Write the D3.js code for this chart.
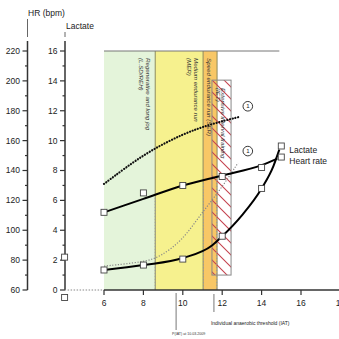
<!DOCTYPE html>
<html>
<head>
<meta charset="utf-8">
<script src="https://cdn.jsdelivr.net/npm/d3@7/dist/d3.min.js"></script>
<style>
  html, body { margin: 0; padding: 0; background: #fff; }
  svg { display: block; font-family: "Liberation Sans", Arial, sans-serif; }
</style>
</head>
<body>
<div id="chart"></div>
<script>
// Running speed (km/h) of the step test stages
const speeds = [6, 8, 10, 12, 14, 15];
// Measured heart rate (bpm) and blood lactate (mmol/l) per stage
const heartRate = [112, 125, 130, 136, 142, 149];
const lactate = [1.34, 1.67, 2.07, 3.6, 6.8, 9.64];
// Resting values, plotted at the left edge of the speed axis
const restSpeed = 4;
const restHeartRate = 82;
const restLactate = -0.5;

// Fitted curves through the measured stages
const hrFitSpeed = [6, 8, 10, 12, 14, 14.8];
const hrFit = [112, 121, 130, 136.7, 143.6, 148];
const lacFitSpeed = [6, 8, 10, 11.5, 12, 13, 14, 14.6, 14.9];
const lacFit = [1.34, 1.67, 2.14, 3.0, 3.6, 5.0, 6.8, 8.3, 9.4];

// Reference curves (dotted)
const hrRefSpeed = [6, 7, 8.3, 10, 11.4, 12.9];
const hrRef = [131, 141, 153, 164.5, 171, 176];
const lacRefSpeed = [6, 8, 8.84, 10, 10.87, 11.9, 12.8];
const lacRef = [1.6, 1.87, 2.2, 3.35, 5.0, 6.7, 8.5];

// Training zones (speed ranges)
const zoneNames = ["Regenerative and long jog", "Medium endurance run", "Speed endurance run (SER)"];
const zoneCodes = ["(L.SD/REH)", "(MER)", ""];
const zoneStart = [6, 8.6, 11.03];
const zoneEnd = [8.6, 11.03, 11.74];
const zoneColors = ["#e4f4da", "#f6f18e", "#f8c766"];
// Interval training band (speed range, lactate range)
const intervalSpeed = [11.48, 12.45];
const intervalLactate = [1.0, 14.05];
const intervalName = "Extensive interval training";
const intervalCode = "(IET)";
// Threshold markers
const thresholdSpeeds = [8.6, 11.05, 11.72];
const peatSpeed = 9.66;
const iatSpeed = 11.58;
// Circled annotations (speed, heart rate)
const noteSpeed = [13.3, 13.3];
const noteHR = [183, 153];

// Axis ticks
const hrTicks = d3.range(60, 221, 10);
const lacTicks = d3.range(0, 17, 1);
const speedTicks = [6, 8, 10, 12, 14, 16, 18];

const W = 339, H = 339;
const svg = d3.select("#chart").append("svg").attr("width", W).attr("height", H);

const x = d3.scaleLinear().domain([4, 18]).range([64.6, 340.4]);
const yL = d3.scaleLinear().domain([0, 16]).range([290, 51]);
const yH = d3.scaleLinear().domain([60, 220]).range([290, 51]);

const axisColor = "#333";
const fs = 8.5;

// hatch pattern for the interval band
const defs = svg.append("defs");
defs.append("pattern").attr("id", "hatch").attr("patternUnits", "userSpaceOnUse")
  .attr("width", 12).attr("height", 12)
  .append("path").attr("d", "M0,0 L12,12 M-3,9 L3,15 M9,-3 L15,3")
  .attr("stroke", "#c4434f").attr("stroke-width", 1.1).attr("fill", "none");

// zones
const zones = svg.append("g");
zoneStart.forEach((s, i) => {
  zones.append("rect")
    .attr("x", x(s)).attr("y", yL(16))
    .attr("width", x(zoneEnd[i]) - x(s)).attr("height", yL(0) - yL(16))
    .attr("fill", zoneColors[i]);
});
// zone boundaries
[8.6, 11.03, 11.74].forEach(s => {
  zones.append("line").attr("x1", x(s)).attr("x2", x(s)).attr("y1", yL(16)).attr("y2", yL(0))
    .attr("stroke", "#8d8b5c").attr("stroke-width", 1);
});
// top border
svg.append("line").attr("x1", x(6)).attr("x2", x(14.9)).attr("y1", yL(16)).attr("y2", yL(16))
  .attr("stroke", "#777").attr("stroke-width", 1);

// interval band
svg.append("rect")
  .attr("x", x(intervalSpeed[0])).attr("y", yL(intervalLactate[1]))
  .attr("width", x(intervalSpeed[1]) - x(intervalSpeed[0]))
  .attr("height", yL(intervalLactate[0]) - yL(intervalLactate[1]))
  .attr("fill", "url(#hatch)").attr("stroke", "#888").attr("stroke-width", 1);

// zone labels, rotated
function vlabel(xpos, ypos, txt, size) {
  svg.append("text").attr("transform", `translate(${xpos},${ypos}) rotate(90)`)
    .attr("font-size", size).attr("font-style", "italic").attr("fill", "#333").text(txt);
}
const hrAt = d3.scaleLinear().domain(hrFitSpeed).range(hrFit);
vlabel(x(8.6) - 9, 58, zoneNames[0], 6.2);
vlabel(x(8.6) - 16, 58, zoneCodes[0], 6.2);
vlabel(x(11.03) - 9, 58, zoneNames[1], 6.2);
vlabel(x(11.03) - 16, 58, zoneCodes[1], 6.2);
vlabel(x(11.03) + 3.5, 58, zoneNames[2], 6.2);
vlabel(x(11.74) - 1.5, 88, intervalCode, 6.2);
vlabel(x(12.45) - 10, 88, intervalName, 6.2);

// threshold dotted verticals
thresholdSpeeds.forEach(s => {
  svg.append("line").attr("x1", x(s)).attr("x2", x(s))
    .attr("y1", yH(hrAt(s)) + 3).attr("y2", yH(60))
    .attr("stroke", "#999").attr("stroke-width", 1).attr("stroke-dasharray", "1.2,1.8");
});

// axes
function vAxis(xpos, scale, ticks, labelEvery, topExt) {
  const g = svg.append("g").attr("transform", `translate(${xpos},0)`);
  g.append("line").attr("y1", scale.range()[0]).attr("y2", 41).attr("stroke", axisColor).attr("stroke-width", 1.5);
  g.append("line").attr("y1", topExt[0]).attr("y2", topExt[1]).attr("stroke", "#666").attr("stroke-width", 1);
  ticks.forEach((t, i) => {
    const major = i % 2 === 0;
    g.append("line").attr("x1", major ? -5 : -2.5).attr("x2", 0)
      .attr("y1", scale(t)).attr("y2", scale(t)).attr("stroke", axisColor).attr("stroke-width", 1.2);
    if (major) {
      g.append("text").attr("x", -7.5).attr("y", scale(t)).attr("dy", "0.35em")
        .attr("text-anchor", "end").attr("font-size", fs).attr("fill", "#222").text(labelEvery(t));
    }
  });
}
vAxis(27.5, yH, hrTicks, t => t, [19, 37]);
vAxis(65, yL, lacTicks, t => t, [32, 37]);
svg.append("text").attr("x", 28).attr("y", 16).attr("font-size", fs).attr("fill", "#222").text("HR (bpm)");
svg.append("text").attr("x", 66).attr("y", 29).attr("font-size", fs).attr("fill", "#222").text("Lactate");

// speed axis
svg.append("line").attr("x1", x(4)).attr("x2", x(6)).attr("y1", yL(0)).attr("y2", yL(0))
  .attr("stroke", "#888").attr("stroke-width", 1).attr("stroke-dasharray", "1.5,1.5");
svg.append("line").attr("x1", x(6)).attr("x2", W).attr("y1", yL(0)).attr("y2", yL(0))
  .attr("stroke", axisColor).attr("stroke-width", 1.5);
speedTicks.forEach(t => {
  svg.append("line").attr("x1", x(t)).attr("x2", x(t)).attr("y1", yL(0)).attr("y2", yL(0) + 5)
    .attr("stroke", axisColor).attr("stroke-width", 1.2);
  svg.append("text").attr("x", x(t)).attr("y", 306).attr("text-anchor", "middle")
    .attr("font-size", fs).attr("fill", "#222").text(t);
});

// PEAT and IAT markers
svg.append("line").attr("x1", x(peatSpeed)).attr("x2", x(peatSpeed)).attr("y1", 293).attr("y2", 330)
  .attr("stroke", "#555").attr("stroke-width", 0.8);
svg.append("text").attr("x", x(peatSpeed) - 4).attr("y", 335).attr("font-size", 3.6).attr("fill", "#333")
  .text("P(IAT) at 10.03.2009");
svg.append("line").attr("x1", x(iatSpeed)).attr("x2", x(iatSpeed)).attr("y1", 294).attr("y2", 312)
  .attr("stroke", "#555").attr("stroke-width", 0.8);
svg.append("text").attr("x", x(iatSpeed) - 3).attr("y", 325).attr("font-size", 5).attr("fill", "#222")
  .text("Individual anaerobic threshold (IAT)");

// curves
const lineH = d3.line().x(d => x(d[0])).y(d => yH(d[1])).curve(d3.curveMonotoneX);
const lineL = d3.line().x(d => x(d[0])).y(d => yL(d[1])).curve(d3.curveMonotoneX);
const smoothH = d3.line().x(d => x(d[0])).y(d => yH(d[1])).curve(d3.curveBasis);
const smoothL = d3.line().x(d => x(d[0])).y(d => yL(d[1])).curve(d3.curveBasis);

svg.append("path").datum(lacRefSpeed.map((s, i) => [s, lacRef[i]])).attr("d", smoothL)
  .attr("fill", "none").attr("stroke", "#888").attr("stroke-width", 1.2).attr("stroke-dasharray", "1.2,1.6");
svg.append("path").datum(hrRefSpeed.map((s, i) => [s, hrRef[i]])).attr("d", smoothH)
  .attr("fill", "none").attr("stroke", "#111").attr("stroke-width", 2.2).attr("stroke-linecap", "round")
  .attr("stroke-dasharray", "0.1,2.7");
svg.append("path").datum(hrFitSpeed.map((s, i) => [s, hrFit[i]])).attr("d", lineH)
  .attr("fill", "none").attr("stroke", "#000").attr("stroke-width", 2);
svg.append("path").datum(lacFitSpeed.map((s, i) => [s, lacFit[i]])).attr("d", lineL)
  .attr("fill", "none").attr("stroke", "#000").attr("stroke-width", 2);

// measured points
function squares(data, yscale) {
  svg.append("g").selectAll("rect").data(data).join("rect")
    .attr("x", d => x(d[0]) - 3).attr("y", d => yscale(d[1]) - 3)
    .attr("width", 6).attr("height", 6)
    .attr("fill", "#fff").attr("stroke", "#444").attr("stroke-width", 0.9);
}
squares(speeds.map((s, i) => [s, heartRate[i]]).concat([[restSpeed, restHeartRate]]), yH);
squares(speeds.map((s, i) => [s, lactate[i]]).concat([[restSpeed, restLactate]]), yL);

// series labels beside the last stage
svg.append("text").attr("x", x(15) + 8).attr("y", yL(lactate[5]) + 7).attr("font-size", fs).attr("fill", "#222").text("Lactate");
svg.append("text").attr("x", x(15) + 8).attr("y", yH(heartRate[5]) + 7).attr("font-size", fs).attr("fill", "#222").text("Heart rate");

// circled notes
noteSpeed.forEach((s, i) => {
  svg.append("circle").attr("cx", x(s)).attr("cy", yH(noteHR[i])).attr("r", 4.8)
    .attr("fill", "#fff").attr("stroke", "#222").attr("stroke-width", 0.9);
  svg.append("text").attr("x", x(s)).attr("y", yH(noteHR[i])).attr("dy", "0.35em")
    .attr("text-anchor", "middle").attr("font-size", 6).attr("fill", "#222").text("1");
});
</script>
</body>
</html>
